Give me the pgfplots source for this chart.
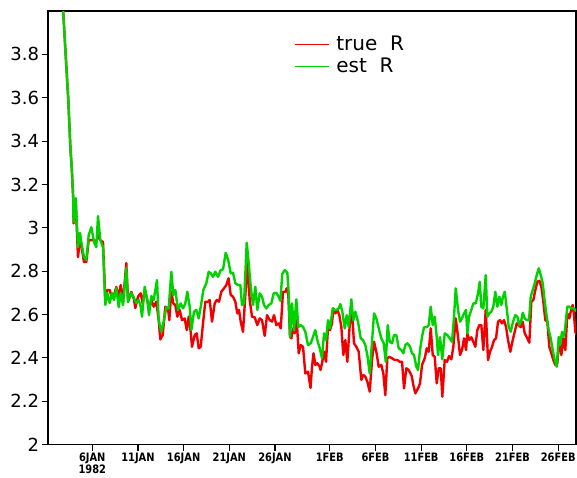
\documentclass[border=0pt]{standalone}
\usepackage{pgfplots}
\pgfplotsset{compat=1.18}
\usepackage{fontspec}
\setmainfont{DejaVu Sans}
\newfontfamily\xfont[FakeStretch=0.85]{DejaVu Sans}
\definecolor{truered}{RGB}{240,0,0}
\definecolor{estgreen}{RGB}{0,210,0}
\begin{document}
\begin{tikzpicture}
\path[use as bounding box] (-36pt,-24.4pt) rectangle (396.75pt,333.4pt);
\begin{axis}[
  anchor=south west, at={(0pt,0pt)},
  scale only axis, width=396pt, height=325.1pt,
  xmin=0.153, xmax=57.95, ymin=2, ymax=4.0,
  axis line style={line width=0.9pt},
  tick style={black, line width=0.9pt},
  major tick length=4.5pt,
  tick align=outside,
  xtick pos=left, ytick pos=left,
  xtick={5,10,15,20,25,31,36,41,46,51,56},
  xticklabels={{6JAN\\1982},11JAN,16JAN,21JAN,26JAN,1FEB,6FEB,11FEB,16FEB,21FEB,26FEB},
  xticklabel style={font=\xfont\bfseries\fontsize{8.7}{9.2}\selectfont, align=center, inner sep=1.5pt},
  ytick={2,2.2,2.4,2.6,2.8,3,3.2,3.4,3.6,3.8},
  yticklabels={2,2.2,2.4,2.6,2.8,3,3.2,3.4,3.6,3.8},
  yticklabel style={font=\fontsize{13.5}{14}\selectfont, inner sep=2pt},
  legend style={at={(axis description cs:0.458,0.952)}, anchor=north west, draw=none, fill=none,
    font=\fontsize{15}{16}\selectfont, row sep=2pt, nodes={inner sep=1pt},
    /tikz/every odd column/.append style={column sep=4pt}},
  legend cell align=left,
  legend image code/.code={\draw[#1] (0pt,0pt) -- (26pt,0pt);},
  legend image post style={line width=0.7pt},
  clip=true,
]
\addplot[truered, line width=1.8pt, line join=round] coordinates {
(1.0,4.6) (2.12,3.774) (2.376,3.589) (2.616,3.359) (2.748,3.28) (2.923,3.128) (2.945,3.02) (3.186,3.12) (3.437,2.865) (3.656,2.95) (3.799,2.92) (4.094,2.842) (4.346,2.842) (4.609,2.943) (4.893,2.943) (5.189,2.943) (5.441,2.934) (5.627,2.966) (5.879,2.943) (6.174,2.934) (6.426,2.667) (6.645,2.713) (6.908,2.713) (7.159,2.676) (7.378,2.69) (7.63,2.727) (7.893,2.681) (8.112,2.736) (8.364,2.657) (8.725,2.837) (8.911,2.667) (9.272,2.704) (9.568,2.67) (9.71,2.63) (10.005,2.682) (10.301,2.698) (10.52,2.651) (10.739,2.713) (11.024,2.667) (11.21,2.621) (11.462,2.667) (11.724,2.636) (12.009,2.659) (12.271,2.574) (12.447,2.485) (12.71,2.505) (12.994,2.636) (13.29,2.628) (13.432,2.574) (13.651,2.705) (13.87,2.651) (14.089,2.644) (14.308,2.59) (14.57,2.621) (14.822,2.574) (15.118,2.582) (15.337,2.528) (15.556,2.59) (15.775,2.52) (15.917,2.451) (16.213,2.505) (16.431,2.513) (16.65,2.444) (16.869,2.451) (17.121,2.559) (17.373,2.659) (17.668,2.659) (17.854,2.667) (18.106,2.567) (18.402,2.651) (18.621,2.667) (18.873,2.659) (19.124,2.705) (19.42,2.721) (19.672,2.736) (19.913,2.767) (20.153,2.69) (20.405,2.682) (20.657,2.659) (20.876,2.605) (21.062,2.621) (21.248,2.567) (21.5,2.52) (21.686,2.644) (21.97,2.836) (22.233,2.667) (22.485,2.59) (22.781,2.587) (23.065,2.551) (23.328,2.582) (23.58,2.574) (23.875,2.501) (24.127,2.597) (24.423,2.574) (24.674,2.567) (24.894,2.597) (25.145,2.551) (25.408,2.559) (25.627,2.536) (25.878,2.705) (26.13,2.705) (26.283,2.721) (26.459,2.69) (26.645,2.497) (26.787,2.49) (26.973,2.536) (27.159,2.513) (27.378,2.574) (27.597,2.421) (27.817,2.459) (28.068,2.451) (28.32,2.328) (28.616,2.336) (28.889,2.261) (29.053,2.359) (29.218,2.421) (29.415,2.367) (29.634,2.375) (29.896,2.359) (29.984,2.344) (30.148,2.375) (30.367,2.428) (30.586,2.382) (30.805,2.543) (31.024,2.528) (31.242,2.559) (31.385,2.628) (31.604,2.605) (31.823,2.621) (32.042,2.597) (32.26,2.543) (32.479,2.413) (32.698,2.482) (32.917,2.382) (33.18,2.551) (33.432,2.613) (33.651,2.467) (33.903,2.451) (34.165,2.428) (34.45,2.298) (34.669,2.321) (34.888,2.313) (35.107,2.29) (35.37,2.244) (35.622,2.39) (35.841,2.474) (36.093,2.428) (36.355,2.359) (36.64,2.367) (36.858,2.328) (37.077,2.228) (37.296,2.398) (37.516,2.405) (37.812,2.398) (38.107,2.39) (38.392,2.39) (38.655,2.382) (38.907,2.382) (39.126,2.259) (39.377,2.352) (39.618,2.344) (39.837,2.328) (39.98,2.313) (40.142,2.275) (40.361,2.236) (40.657,2.259) (40.876,2.282) (41.095,2.367) (41.391,2.398) (41.61,2.444) (41.828,2.428) (42.047,2.536) (42.266,2.413) (42.485,2.405) (42.704,2.282) (42.923,2.352) (43.142,2.352) (43.317,2.221) (43.58,2.39) (43.831,2.382) (44.05,2.408) (44.302,2.393) (44.521,2.451) (44.784,2.582) (45.036,2.497) (45.255,2.413) (45.474,2.436) (45.693,2.49) (45.912,2.436) (46.054,2.513) (46.273,2.482) (46.492,2.495) (46.711,2.474) (46.93,2.451) (47.148,2.528) (47.367,2.551) (47.586,2.551) (47.805,2.436) (48.068,2.621) (48.32,2.39) (48.539,2.428) (48.758,2.451) (48.977,2.482) (49.196,2.49) (49.414,2.567) (49.633,2.574) (49.852,2.559) (50.071,2.574) (50.29,2.543) (50.509,2.482) (50.761,2.428) (51.024,2.482) (51.242,2.52) (51.461,2.559) (51.68,2.551) (51.899,2.541) (52.119,2.567) (52.337,2.513) (52.622,2.49) (52.841,2.47) (53.06,2.659) (53.279,2.667) (53.498,2.713) (53.717,2.751) (53.936,2.756) (54.154,2.728) (54.373,2.659) (54.592,2.574) (54.811,2.567) (55.03,2.451) (55.249,2.421) (55.468,2.39) (55.687,2.367) (55.906,2.375) (56.125,2.49) (56.344,2.413) (56.563,2.49) (56.782,2.436) (57.001,2.605) (57.22,2.582) (57.373,2.613) (57.592,2.644) (57.734,2.597) (57.877,2.52) (58.1,2.5)
};
\addlegendentry{true\ \ R}
\addplot[estgreen, line width=1.8pt, line join=round] coordinates {
(1.0,4.6) (2.12,3.774) (2.376,3.589) (2.616,3.359) (2.748,3.28) (2.923,3.128) (2.945,3.027) (3.186,3.137) (3.437,2.911) (3.656,2.976) (3.799,2.934) (4.094,2.865) (4.346,2.851) (4.609,2.967) (4.893,3.003) (5.189,2.934) (5.441,2.911) (5.627,3.054) (5.879,2.943) (6.174,2.911) (6.426,2.644) (6.645,2.699) (6.908,2.653) (7.159,2.699) (7.378,2.667) (7.63,2.722) (7.893,2.634) (8.112,2.699) (8.364,2.644) (8.725,2.814) (8.911,2.657) (9.272,2.699) (9.568,2.676) (9.82,2.653) (10.082,2.667) (10.301,2.636) (10.443,2.59) (10.739,2.728) (11.024,2.667) (11.21,2.597) (11.462,2.685) (11.724,2.667) (12.085,2.759) (12.271,2.574) (12.556,2.52) (12.852,2.574) (13.104,2.633) (13.366,2.628) (13.651,2.797) (13.87,2.69) (14.089,2.713) (14.384,2.621) (14.68,2.651) (14.932,2.628) (15.183,2.651) (15.402,2.705) (15.665,2.636) (15.84,2.528) (16.136,2.613) (16.388,2.621) (16.65,2.582) (16.935,2.651) (17.154,2.713) (17.482,2.744) (17.745,2.797) (17.964,2.79) (18.216,2.774) (18.468,2.797) (18.763,2.774) (19.059,2.805) (19.311,2.808) (19.606,2.885) (19.88,2.851) (20.153,2.79) (20.405,2.793) (20.657,2.744) (20.953,2.736) (21.204,2.736) (21.391,2.644) (21.609,2.651) (21.905,2.931) (22.124,2.836) (22.343,2.728) (22.595,2.644) (22.846,2.728) (23.065,2.621) (23.328,2.698) (23.58,2.682) (23.799,2.644) (24.051,2.628) (24.313,2.644) (24.598,2.651) (24.861,2.698) (25.145,2.7) (25.408,2.682) (25.583,2.663) (25.802,2.787) (26.065,2.805) (26.35,2.793) (26.503,2.698) (26.645,2.497) (26.864,2.651) (27.083,2.528) (27.335,2.67) (27.554,2.543) (27.817,2.551) (28.068,2.543) (28.32,2.52) (28.616,2.459) (28.911,2.467) (29.163,2.497) (29.415,2.528) (29.634,2.482) (29.896,2.444) (30.148,2.398) (30.367,2.513) (30.586,2.482) (30.805,2.574) (31.024,2.536) (31.319,2.628) (31.538,2.621) (31.713,2.621) (31.976,2.628) (32.151,2.648) (32.37,2.613) (32.633,2.536) (32.852,2.597) (33.071,2.543) (33.355,2.67) (33.574,2.574) (33.793,2.613) (34.089,2.567) (34.385,2.49) (34.636,2.482) (34.888,2.459) (35.107,2.413) (35.37,2.328) (35.622,2.474) (35.841,2.605) (36.093,2.582) (36.355,2.536) (36.64,2.49) (36.903,2.467) (37.122,2.382) (37.341,2.551) (37.56,2.474) (37.812,2.467) (38.031,2.505) (38.282,2.505) (38.545,2.444) (38.83,2.436) (39.049,2.421) (39.268,2.459) (39.487,2.467) (39.781,2.451) (40.0,2.421) (40.219,2.413) (40.471,2.359) (40.657,2.344) (40.876,2.436) (41.095,2.497) (41.314,2.541) (41.61,2.541) (41.828,2.551) (42.047,2.636) (42.266,2.551) (42.485,2.59) (42.704,2.497) (42.846,2.413) (43.065,2.495) (43.317,2.393) (43.58,2.513) (43.864,2.505) (44.127,2.49) (44.379,2.474) (44.598,2.59) (44.784,2.721) (45.036,2.621) (45.255,2.567) (45.474,2.582) (45.693,2.605) (45.912,2.621) (46.054,2.513) (46.24,2.59) (46.492,2.621) (46.711,2.651) (46.974,2.651) (47.225,2.698) (47.411,2.751) (47.586,2.636) (47.805,2.628) (48.068,2.782) (48.243,2.59) (48.462,2.605) (48.681,2.613) (48.9,2.636) (49.119,2.705) (49.338,2.636) (49.557,2.682) (49.776,2.644) (49.962,2.682) (50.148,2.705) (50.367,2.628) (50.586,2.543) (50.805,2.52) (51.057,2.567) (51.308,2.597) (51.527,2.59) (51.746,2.551) (51.965,2.574) (52.119,2.608) (52.337,2.582) (52.556,2.574) (52.808,2.574) (52.994,2.682) (53.213,2.713) (53.432,2.744) (53.651,2.782) (53.87,2.813) (54.089,2.782) (54.308,2.744) (54.527,2.659) (54.746,2.59) (54.964,2.528) (55.183,2.49) (55.402,2.436) (55.621,2.39) (55.84,2.359) (56.059,2.497) (56.202,2.459) (56.421,2.52) (56.563,2.497) (56.716,2.52) (57.001,2.636) (57.22,2.636) (57.439,2.628) (57.658,2.628) (57.877,2.621) (58.1,2.61)
};
\addlegendentry{est\ \ R}
\end{axis}
\end{tikzpicture}
\end{document}
